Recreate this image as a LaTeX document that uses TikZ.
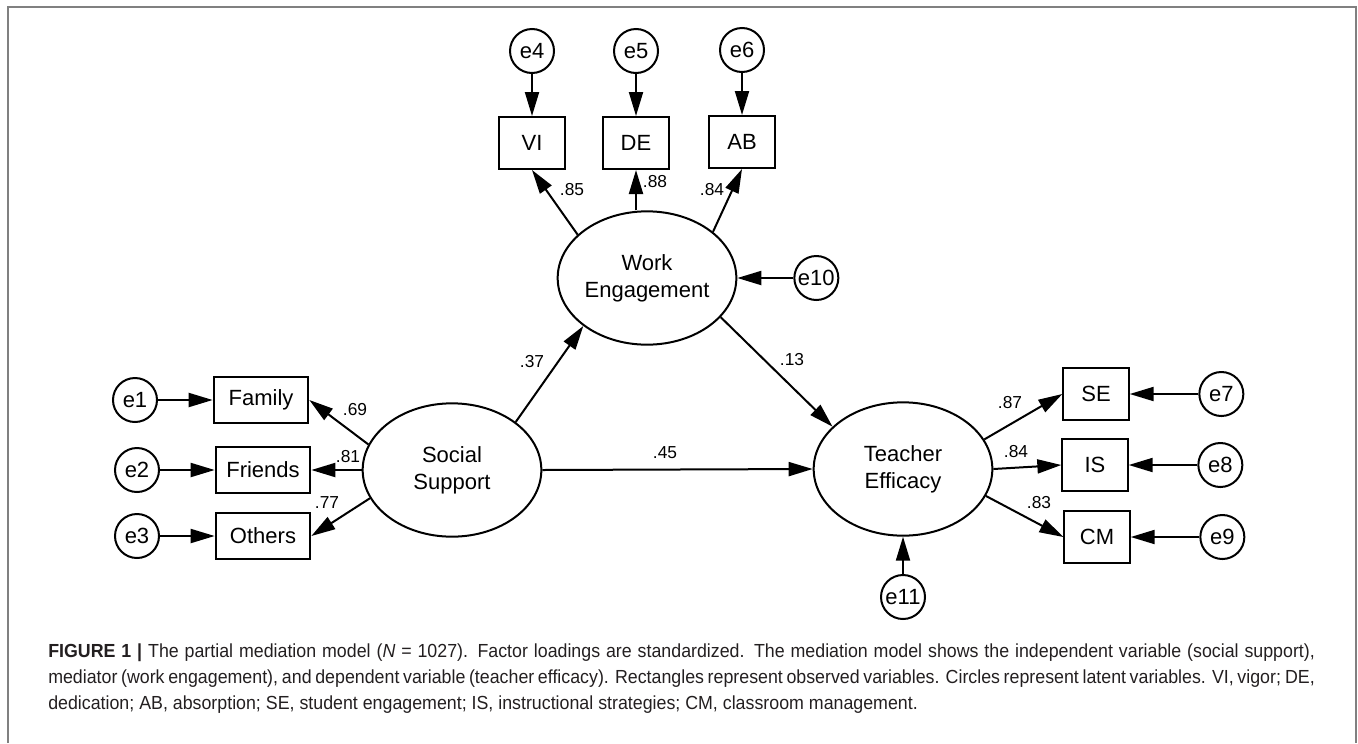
\documentclass[tikz,border=0pt]{standalone}
\usepackage{fontspec}
\setmainfont{Liberation Sans}
\newfontfamily\capfont[FakeStretch=0.94]{Liberation Sans}
\usepackage{tikz}
\usetikzlibrary{positioning}
\usetikzlibrary{arrows.meta}
\usetikzlibrary{shapes.geometric}
\definecolor{framegrey}{HTML}{808080}
\definecolor{captext}{HTML}{231F20}
\newcommand{\capline}[1]{\makebox[950pt][s]{#1}}
\tikzset{
    sem diagram/.style={
            x=0.75pt,y=-0.75pt,
            node distance=41pt,
            font=\fontsize{16.5}{20}\selectfont,
            arrow/.style={-{Triangle[length=18pt,width=10.5pt]},line width=1.5pt},
            latent/.style={ellipse,draw,line width=1.5pt,minimum width=134pt,minimum height=100pt,inner sep=0pt,align=center},
            obs/.style={rectangle,draw,line width=1.5pt,minimum width=49pt,minimum height=39pt,inner sep=0pt},
            obswide/.style={obs,minimum width=71pt,minimum height=35pt},
            err/.style={circle,draw,line width=1.5pt,minimum size=33pt,inner sep=0pt},
            coef/.style={font=\fontsize{13}{15}\selectfont,inner sep=1pt},
            captionline/.style={anchor=base west,inner sep=0pt,text=captext,font=\capfont\fontsize{14.2}{17}\selectfont}
        }
    }

\begin{document}
\begin{tikzpicture}[sem diagram]
        \useasboundingbox (0,0) rectangle (1358,743);
        \draw [framegrey, line width=1.5pt] (8,743) -- (8,7) -- (1356,7) -- (1356,743);

        % latent variables
        \node[latent] (SS) at (452,470) {Social\\Support};
        \node[latent] (WE) at (647,278) {Work\\Engagement};
        \node[latent] (TE) at (903,469) {Teacher\\Efficacy};

        % observed variables
        \node[obswide] (Family) at (261,400) {Family};
        \node[obswide] (Friends) at (263,470) {Friends};
        \node[obswide] (Others) at (263,536) {Others};
        \node[obs] (VI) at (532,143) {VI};
        \node[obs] (DE) at (636,143) {DE};
        \node[obs] (AB) at (742,142) {AB};
        \node[obs] (SE) at (1096,394) {SE};
        \node[obs] (IS) at (1095,465) {IS};
        \node[obs] (CM) at (1097,537) {CM};

        % errors
        \node[err] (e1) [left=of Family] {e1};
        \node[err] (e2) [left=of Friends] {e2};
        \node[err] (e3) [left=of Others] {e3};
        \node[err] (e4) [above=31.5pt of VI] {e4};
        \node[err] (e5) [above=31.5pt of DE] {e5};
        \node[err] (e6) [above=31.5pt of AB] {e6};
        \node[err] (e7) [right=51.5pt of SE] {e7};
        \node[err] (e8) [right=51.5pt of IS] {e8};
        \node[err] (e9) [right=51.5pt of CM] {e9};
        \node[err] (e10) [right=42pt of WE] {e10};
        \node[err] (e11) [below=28pt of TE] {e11};

        \draw [arrow] (e1) -- (Family);
        \draw [arrow] (e2) -- (Friends);
        \draw [arrow] (e3) -- (Others);
        \draw [arrow] (e4) -- (VI);
        \draw [arrow] (e5) -- (DE);
        \draw [arrow] (e6) -- (AB);
        \draw [arrow] (e7) -- (SE);
        \draw [arrow] (e8) -- (IS);
        \draw [arrow] (e9) -- (CM);
        \draw [arrow] (e10) -- (WE);
        \draw [arrow] (e11) -- (TE);

        \draw [arrow] (SS.163) -- (Family.east);
        \draw [arrow] (SS.west) -- (Friends.east);
        \draw [arrow] (SS.199) -- (Others.east);
        \draw [arrow] (WE.148) -- (VI.south);
        \draw [arrow] (DE.south |- WE.north) -- (DE.south);
        \draw [arrow] (WE.35) -- (AB.south);
        \draw [arrow] (SS.37) -- (WE.217);
        \draw [arrow] (WE.-28) -- (TE.149);
        \draw [arrow] (SS.east) -- (TE.west);
        \draw [arrow] (TE.20) -- (SE.west);
        \draw [arrow] (TE.east) -- (IS.west);
        \draw [arrow] (TE.-18) -- (CM.west);

        % loadings and paths
        \node[coef] (lFamily) at (355,410) {.69};
        \node[coef] (lFriends) at (348,457) {.81};
        \node[coef] (lOthers) at (327,503) {.77};
        \node[coef] (lVI) at (572,190) {.85};
        \node[coef] (lDE) at (655,182) {.88};
        \node[coef] (lAB) at (712,190) {.84};
        \node[coef] (lSSWE) at (532,362) {.37};
        \node[coef] (lWETE) at (792,360) {.13};
        \node[coef] (lSSTE) at (665,453) {.45};
        \node[coef] (lSE) at (1010,403) {.87};
        \node[coef] (lIS) at (1016,452) {.84};
        \node[coef] (lCM) at (1039,503) {.83};

        % caption
        \node[captionline] (cap1) at (48,657) {\capline{\textbf{FIGURE 1 |} The partial mediation model (\textit{N} = 1027). Factor loadings are standardized. The mediation model shows the independent variable (social support),}};
        \node[captionline] (cap2) at (48,683) {\capline{mediator (work engagement), and dependent variable (teacher efficacy). Rectangles represent observed variables. Circles represent latent variables. VI, vigor; DE,}};
        \node[captionline] (cap3) at (48,709) {dedication; AB, absorption; SE, student engagement; IS, instructional strategies; CM, classroom management.};
    \end{tikzpicture}
\end{document}
